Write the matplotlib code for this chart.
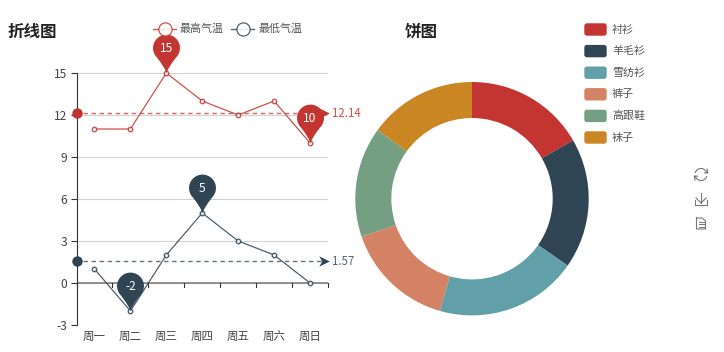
import numpy as np
import matplotlib
matplotlib.use("Agg")
import matplotlib.pyplot as plt
from matplotlib.path import Path
from matplotlib.patches import FancyBboxPatch

plt.rcParams['font.family'] = ['Noto Sans CJK SC', 'DejaVu Sans']

days = ['周一', '周二', '周三', '周四', '周五', '周六', '周日']
high_temp = [11, 11, 15, 13, 12, 13, 10]
low_temp = [1, -2, 2, 5, 3, 2, 0]
high_avg = 12.14
low_avg = 1.57
y_ticks = [-3, 0, 3, 6, 9, 12, 15]
pie_names = ['衬衫', '羊毛衫', '雪纺衫', '裤子', '高跟鞋', '袜子']
pie_values = [60, 65, 71, 55, 55, 54]

RED, NAVY = '#c23531', '#2f4554'
pie_colors = [RED, NAVY, '#61a0a8', '#d48265', '#749f83', '#ca8622']
TXT = '#444444'
W, H = 724, 352
px = 0.72

fig = plt.figure(figsize=(W / 100, H / 100), dpi=100, facecolor='white')

def axes_px(l, t, r, b, **kw):
    return fig.add_axes([l / W, 1 - b / H, (r - l) / W, (b - t) / H], **kw)

# ---- line chart
ax = axes_px(76.5, 73, 328, 325)
ax.set_xlim(-0.5, 6.5)
ax.set_ylim(-3, 15)
ax.set_yticks(y_ticks)
ax.set_yticklabels([str(v) for v in y_ticks], fontsize=12 * px, color=TXT)
ax.grid(axis='y', color='#d2d2d2', lw=0.8)
ax.set_axisbelow(True)
for s in ['top', 'right']:
    ax.spines[s].set_visible(False)
ax.spines['bottom'].set_visible(False)
ax.spines['left'].set_color('#333333')
ax.spines['left'].set_linewidth(0.8)
ax.axhline(0, color='#777777', lw=1.1, zorder=1.5)
ax.set_xticks(np.arange(-0.5, 7, 1))
ax.set_xticklabels([])
ax.tick_params(axis='y', length=4, width=0.8, color='#333333', pad=3)
ax.tick_params(axis='x', length=0)
for x in np.arange(-0.5, 7, 1):
    ax.plot([x, x], [0, -0.25], color='#333333', lw=0.8, clip_on=False, zorder=1.6)
for i, d in enumerate(days):
    ax.text(i, -3.85, d, ha='center', va='center', fontsize=11.5 * px, color=TXT)

# pin marker: tip at origin, head on top
a = np.radians(np.linspace(-45, 225, 40))
r, c = 0.346, 0.654
hx, hy = r * np.cos(a), c + r * np.sin(a)
vs = [(0.0, 0.0), (0.03, 0.14), (hx[0], hy[0])]
codes = [Path.MOVETO, Path.CURVE3, Path.CURVE3]
vs += list(zip(hx[1:], hy[1:]))
codes += [Path.LINETO] * (len(hx) - 1)
vs += [(-0.03, 0.14), (0.0, 0.0), (0.0, 0.0)]
codes += [Path.CURVE3, Path.CURVE3, Path.CLOSEPOLY]
pin = Path(vs, codes)

def series(vals, avg, color, label_color):
    ax.plot(range(7), vals, color=color, lw=0.9, alpha=0.85, marker='o', ms=3.2,
            mfc='white', mec=color, mew=1.0, zorder=3, clip_on=False)
    ax.plot([-0.32, 6.3], [avg, avg], color=color, lw=1.0, ls=(0, (3.2, 2.6)),
            alpha=0.75, zorder=2, clip_on=False)
    ax.plot([-0.5], [avg], 'o', color=color, ms=7.5, mew=0, clip_on=False, zorder=4)
    ax.plot([6.38], [avg], marker=Path([(-1, 1), (1, 0), (-1, -1), (-0.45, 0), (-1, 1)]),
            color=color, ms=7.5, mew=0, clip_on=False, zorder=4)
    ax.text(6.62, avg, f'{avg:.2f}', color=label_color, fontsize=11.5 * px,
            ha='left', va='center', clip_on=False)
    for i in (int(np.argmax(vals)), int(np.argmin(vals))):
        ax.scatter([i], [vals[i]], marker=pin, s=3136, color=color, lw=0, zorder=5, clip_on=False)
        ax.annotate(str(vals[i]), (i, vals[i]), xytext=(0, 17.5), textcoords='offset points',
                    ha='center', va='center', color='white', fontsize=12 * px, zorder=6)

series(high_temp, high_avg, RED, '#c9504c')
series(low_temp, low_avg, NAVY, '#55636e')

# ---- pie chart
pa = axes_px(472 - 118, 198.7 - 118, 472 + 118, 198.7 + 118)
pa.pie(pie_values, colors=pie_colors, startangle=90, counterclock=False, radius=116.7 / 118,
       wedgeprops=dict(width=36 / 118, linewidth=0))
pa.set_xlim(-1, 1)
pa.set_ylim(-1, 1)

# ---- overlay in pixel space: titles, legends, toolbox
ov = fig.add_axes([0, 0, 1, 1], zorder=10)
ov.set_xlim(0, W)
ov.set_ylim(H, 0)
ov.axis('off')
ov.patch.set_alpha(0)

ov.text(8, 31.5, '折线图', fontsize=16.5 * px, fontweight='bold', color='#222222', va='center')
ov.text(405, 31.5, '饼图', fontsize=16.5 * px, fontweight='bold', color='#222222', va='center')

for lx, tx, name, col in [(165, 180, '最高气温', RED), (243, 259, '最低气温', NAVY)]:
    ov.plot([lx - 12, lx + 11], [28.5, 28.5], color=col, lw=1.0, alpha=0.8)
    ov.plot([lx], [28.5], 'o', ms=9.5, mfc='white', mec=col, mew=0.9, alpha=0.85)
    ov.text(tx, 28.5, name, fontsize=11 * px, color='#555555', va='center')

for i, (n, col) in enumerate(zip(pie_names, pie_colors)):
    yc = 29.5 + i * 21.6
    ov.add_patch(FancyBboxPatch((585, yc - 5.5), 21, 11, boxstyle='round,pad=0,rounding_size=2',
                                fc=col, ec=col, lw=1.0))
    ov.text(612, yc, n, fontsize=11 * px, color='#555555', va='center')

ic = '#777777'
# restore icon
t = np.radians(np.linspace(20, 160, 20))
ov.plot(701 + 6 * np.cos(t), 174.5 - 6 * np.sin(t), color=ic, lw=0.8)
ov.plot(701 + 6 * np.cos(t + np.pi), 174.5 - 6 * np.sin(t + np.pi), color=ic, lw=0.8)
ov.plot([707, 707.8, 704.5], [169, 173, 172.8], color=ic, lw=0.8)
ov.plot([695, 694.2, 697.5], [180, 176, 176.2], color=ic, lw=0.8)
# save icon
ov.plot([695, 695, 707, 707], [200, 205, 205, 200], color=ic, lw=0.8)
ov.plot([701, 701], [193, 203], color=ic, lw=0.8)
ov.plot([696, 701, 706], [198, 203, 198], color=ic, lw=0.8)
# data view icon
ov.plot([696.5, 696.5, 705.5, 705.5, 702, 696.5], [218, 229, 229, 221, 218, 218], color=ic, lw=0.8)
for yy in (221.5, 224, 226.5):
    ov.plot([698.5, 703.5], [yy, yy], color=ic, lw=0.7)

fig.savefig('out.png', dpi=100, facecolor='white')
